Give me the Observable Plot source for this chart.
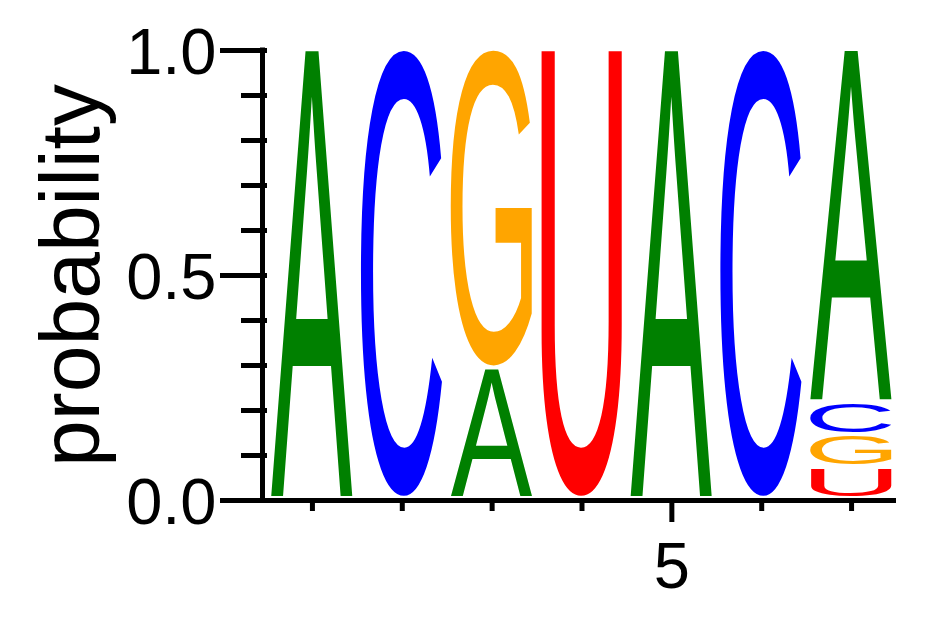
<!DOCTYPE html>
<html><head><meta charset="utf-8">
<script src="https://cdn.jsdelivr.net/npm/d3@7"></script>
<script src="https://cdn.jsdelivr.net/npm/@observablehq/plot@0.6"></script>
<style>html,body{margin:0;padding:0;background:#fff;}</style>
</head><body><div id="chart"></div>
<script>
// ---- data ----
const positions = [1, 2, 3, 4, 5, 6, 7];
const bases = ["A", "C", "G", "U"];
const baseColors = ["#008000", "#0000ff", "#ffa500", "#ff0000"];
const probA = [1.00, 0, 0.29, 0, 1.00, 0, 0.785];
const probC = [0, 1.00, 0, 0, 0, 1.00, 0.073];
const probG = [0, 0, 0.71, 0, 0, 0, 0.072];
const probU = [0, 0, 0, 1.00, 0, 0, 0.070];
const yMajorTicks = [0, 0.5, 1];
const yMinorTicks = [0.1, 0.2, 0.3, 0.4, 0.6, 0.7, 0.8, 0.9];
const xMajorTicks = [5];
const xMinorTicks = [1, 2, 3, 4, 6, 7];
const yLabel = "probability";

// ---- table for the stack: per position, smallest probability at the bottom ----
const probs = {A: probA, C: probC, G: probG, U: probU};
const rows = [];
positions.forEach((pos, i) => {
  const col = bases.map(b => ({pos, base: b, p: probs[b][i]})).filter(d => d.p > 0);
  col.sort((a, b) => a.p - b.p);
  rows.push(...col);
});

// ---- glyph ink metrics for stretching letters into their stacked rects ----
const FONT = "Liberation Sans";
const ctx = document.createElement("canvas").getContext("2d");
ctx.font = `100px "${FONT}"`;
const metrics = {};
for (const b of bases) {
  const m = ctx.measureText(b);
  metrics[b] = {l: m.actualBoundingBoxLeft, r: m.actualBoundingBoxRight,
                a: m.actualBoundingBoxAscent, d: m.actualBoundingBoxDescent};
}
const colorOf = Object.fromEntries(bases.map((b, i) => [b, baseColors[i]]));

function letterRender(index, scales, values, dimensions, context, next) {
  const ns = "http://www.w3.org/2000/svg";
  const doc = (context && context.document) || document;
  const g = doc.createElementNS(ns, "g");
  for (const i of index) {
    const d = rows[i];
    const xa = values.x1[i], xb = values.x2[i], ya = values.y1[i], yb = values.y2[i];
    const left = Math.min(xa, xb) + 4, right = Math.max(xa, xb) - 4;
    const top = Math.min(ya, yb), bottom = Math.max(ya, yb) - 4;
    const m = metrics[d.base];
    const sx = (right - left) / (m.l + m.r), sy = (bottom - top) / (m.a + m.d);
    const t = doc.createElementNS(ns, "text");
    t.setAttribute("x", 0);
    t.setAttribute("y", 0);
    t.setAttribute("font-family", FONT);
    t.setAttribute("font-size", 100);
    t.setAttribute("text-anchor", "start");
    t.setAttribute("fill", values.fill ? values.fill[i] : colorOf[d.base]);
    t.setAttribute("transform", `translate(${left},${top}) scale(${sx},${sy}) translate(${m.l},${m.a})`);
    t.textContent = d.base;
    g.appendChild(t);
  }
  return g;
}

const chart = Plot.plot({
  width: 942, height: 617,
  marginLeft: 267, marginRight: 46, marginTop: 50, marginBottom: 117,
  x: {domain: [0.5, 7.5]},
  y: {domain: [0, 1]},
  color: {domain: bases, range: baseColors},
  style: {fontFamily: "'Liberation Sans', Arial, sans-serif", background: "white", color: "black"},
  marks: [
    Plot.rectY(rows, {x1: d => d.pos - 0.5, x2: d => d.pos + 0.5, y: "p", fill: "base", render: letterRender}),
    Plot.ruleY([0], {strokeWidth: 5}),
    Plot.ruleX([0.5], {dx: -5, strokeWidth: 5, strokeLinecap: "square"}),
    Plot.axisY({ticks: yMajorTicks, tickSize: 47, strokeWidth: 5, tickFormat: () => "", label: null}),
    Plot.axisY({ticks: yMinorTicks, tickSize: 26, strokeWidth: 5, tickFormat: () => "", label: null}),
    Plot.text(yMajorTicks, {y: d => d, text: d => d.toFixed(1), frameAnchor: "left", textAnchor: "end", dx: -51, dy: 3, fontSize: 65, fill: "black"}),
    Plot.axisX({ticks: xMinorTicks, tickSize: 11, strokeWidth: 5, tickFormat: () => "", label: null}),
    Plot.axisX({ticks: xMajorTicks, tickSize: 22, tickPadding: 19, strokeWidth: 5, fontSize: 65, tickFormat: d => String(d), label: null}),
    Plot.text([yLabel], {frameAnchor: "left", textAnchor: "middle", rotate: -90, dx: -195, fontSize: 84, fill: "black"})
  ]
});
// drop the empty tick-label texts of the label-less tick axes
chart.querySelectorAll("text").forEach(t => { if (t.textContent === "") t.remove(); });
document.getElementById("chart").appendChild(chart);
</script>
</body></html>
